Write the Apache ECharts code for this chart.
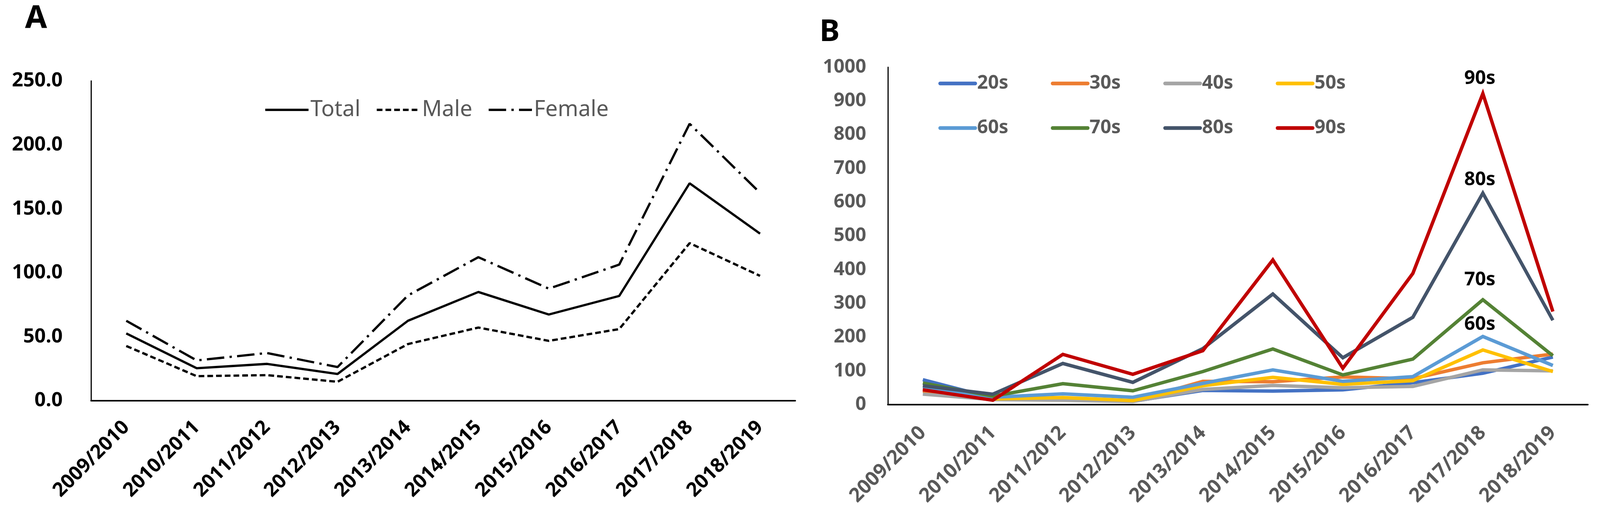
<!DOCTYPE html>
<html>
<head>
<meta charset="utf-8">
<script src="https://cdn.jsdelivr.net/npm/echarts@6/dist/echarts.min.js"></script>
<style>
html,body{margin:0;padding:0;background:#fff;overflow:hidden;}
#chart{width:100vw;height:100vh;}
</style>
</head>
<body>
<div id="chart"></div>
<script>
// ---------- data ----------
const categories = ['2009/2010','2010/2011','2011/2012','2012/2013','2013/2014','2014/2015','2015/2016','2016/2017','2017/2018','2018/2019'];

// Panel A
const totalA  = [52.6, 25.4, 28.8, 20.9, 62.5, 85.0, 67.4, 81.9, 170.0, 130.6];
const maleA   = [42.8, 19.2, 20.0, 14.8, 44.3, 57.2, 46.8, 56.0, 123.2, 97.6];
const femaleA = [62.5, 31.5, 37.3, 26.3, 82.3, 112.2, 87.6, 106.4, 216.5, 162.5];
const yTicksA = [0, 50, 100, 150, 200, 250];

// Panel B
const ageGroups = ['20s','30s','40s','50s','60s','70s','80s','90s'];
const s20 = [74, 20, 15, 10, 42, 40, 44, 65, 93, 141];
const s30 = [40, 18, 16, 10, 69, 68, 82, 77, 124, 150];
const s40 = [31, 15, 13, 9, 45, 57, 50, 54, 103, 100];
const s50 = [48, 17, 21, 12, 56, 81, 60, 71, 162, 98];
const s60 = [50, 22, 32, 22, 63, 103, 69, 83, 202, 116];
const s70 = [64, 25, 62, 41, 98, 165, 88, 135, 311, 145];
const s80 = [56, 31, 122, 66, 166, 328, 139, 259, 627, 250];
const s90 = [44, 13, 149, 90, 160, 429, 108, 389, 922, 276];
const yTicksB = [0,100,200,300,400,500,600,700,800,900,1000];
const labelledIndex = 8; // 2017/2018 peak annotations

// ---------- layout helpers (designed for 4217 x 1348) ----------
const el = document.getElementById('chart');
const W = el.clientWidth || 4217, H = el.clientHeight || 1348;
const sx = W / 4217, sy = H / 1348, sf = Math.min(sx, sy);
const px = v => v * sx, py = v => v * sy, fs = v => v * sf;

const FONT = 'Noto Sans';
const colorsB = ['#4472C4','#ED7D31','#A5A5A5','#FFC000','#5B9BD5','#548235','#44546A','#C00000'];
const seriesDataB = [s20, s30, s40, s50, s60, s70, s80, s90];
const labelDist = {'60s': 6, '70s': 27, '80s': 9, '90s': 14};

const chart = echarts.init(el);

const seriesB = ageGroups.map((name, k) => {
  const arr = seriesDataB[k];
  const showLab = labelDist[name] !== undefined;
  return {
    name: name,
    type: 'line',
    xAxisIndex: 1, yAxisIndex: 1,
    symbol: 'circle', symbolSize: 0, showSymbol: true,
    color: colorsB[k],
    lineStyle: {width: fs(9), color: colorsB[k], join: 'miter'},
    data: arr.map((v, i) => (showLab && i === labelledIndex) ? {
      value: v,
      label: {show: true, position: 'top', distance: fs(labelDist[name]), offset: [px(-8), 0],
              formatter: name, fontFamily: FONT, fontWeight: 'bold', fontSize: fs(50), color: '#000'}
    } : v),
    z: 2 + k
  };
});

const legendB = (items, top) => ({
  data: items,
  left: px(2468), top: py(top),
  itemWidth: px(92), itemHeight: fs(20), itemGap: px(112),
  itemStyle: {opacity: 0},
  lineStyle: {width: fs(10), cap: 'round'},
  textStyle: {fontFamily: FONT, fontSize: fs(50), fontWeight: 'bold', color: '#595959'}
});

const option = {
  animation: false,
  backgroundColor: '#fff',
  graphic: [
    {type: 'text', left: px(66), top: py(8), style: {text: 'A', font: 'bold ' + fs(84) + 'px "Noto Sans"', fill: '#000'}},
    {type: 'text', left: px(2160), top: py(44), style: {text: 'B', font: 'bold ' + fs(80) + 'px "Noto Sans"', fill: '#000'}}
  ],
  grid: [
    {left: px(240), width: px(1856), top: py(207), height: py(818)},
    {left: px(2340), width: px(1845), top: py(172), height: py(863)}
  ],
  legend: [
    {
      data: ['Total','Male','Female'],
      left: px(691), top: py(248),
      itemWidth: px(114), itemHeight: fs(20), itemGap: px(40),
      itemStyle: {opacity: 0},
      lineStyle: {width: fs(6)},
      textStyle: {fontFamily: FONT, fontSize: fs(58), color: '#595959'}
    },
    legendB(ageGroups.slice(0, 4), 184),
    legendB(ageGroups.slice(4), 298)
  ],
  xAxis: [
    {
      type: 'category', gridIndex: 0, data: categories, boundaryGap: true,
      axisLine: {lineStyle: {color: '#000', width: fs(4)}},
      axisTick: {show: false},
      axisLabel: {rotate: 45, margin: fs(62), interval: 0, fontFamily: FONT, fontWeight: 'bold', fontSize: fs(52), color: '#000'},
      splitLine: {show: false}
    },
    {
      type: 'category', gridIndex: 1, data: categories, boundaryGap: true,
      axisLine: {lineStyle: {color: '#000', width: fs(4)}},
      axisTick: {show: false},
      axisLabel: {rotate: 45, margin: fs(66), interval: 0, fontFamily: FONT, fontWeight: 'bold', fontSize: fs(52), color: '#595959'},
      splitLine: {show: false}
    }
  ],
  yAxis: [
    {
      type: 'value', gridIndex: 0,
      min: yTicksA[0], max: yTicksA[yTicksA.length - 1], interval: yTicksA[1] - yTicksA[0],
      axisLine: {show: true, lineStyle: {color: '#000', width: fs(3)}},
      axisTick: {show: false},
      splitLine: {show: false},
      axisLabel: {margin: px(75), fontFamily: FONT, fontWeight: 'bold', fontSize: fs(52), color: '#000',
                  formatter: v => v.toFixed(1)}
    },
    {
      type: 'value', gridIndex: 1,
      min: yTicksB[0], max: yTicksB[yTicksB.length - 1], interval: yTicksB[1] - yTicksB[0],
      axisLine: {show: true, lineStyle: {color: '#000', width: fs(3)}},
      axisTick: {show: false},
      splitLine: {show: false},
      axisLabel: {margin: px(57), fontFamily: FONT, fontWeight: 'bold', fontSize: fs(50), color: '#595959',
                  formatter: v => String(v)}
    }
  ],
  series: [
    {name: 'Total', type: 'line', xAxisIndex: 0, yAxisIndex: 0, symbol: 'none', color: '#000',
     lineStyle: {width: fs(6), color: '#000', type: 'solid'}, data: totalA},
    {name: 'Male', type: 'line', xAxisIndex: 0, yAxisIndex: 0, symbol: 'none', color: '#000',
     lineStyle: {width: fs(6), color: '#000', type: [fs(15), fs(8)]}, data: maleA},
    {name: 'Female', type: 'line', xAxisIndex: 0, yAxisIndex: 0, symbol: 'none', color: '#000',
     lineStyle: {width: fs(6), color: '#000', type: [fs(46), fs(14), fs(6), fs(14)]}, data: femaleA}
  ].concat(seriesB)
};

chart.setOption(option);
</script>
</body>
</html>
